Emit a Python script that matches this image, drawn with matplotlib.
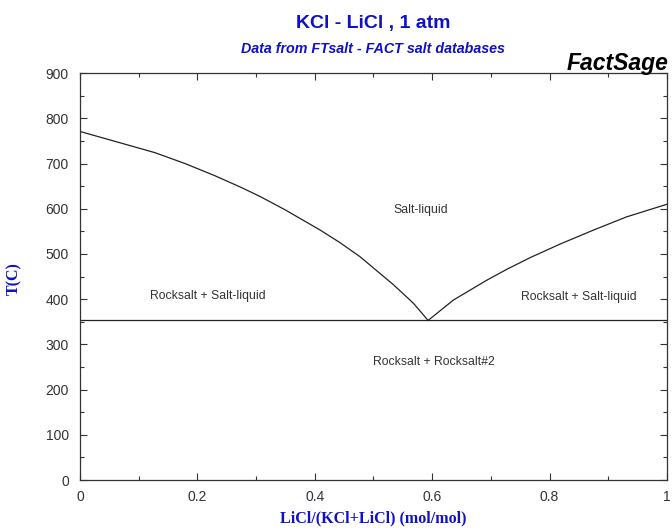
import matplotlib
matplotlib.use("Agg")
import matplotlib.pyplot as plt
from matplotlib.ticker import MultipleLocator

# liquidus, KCl side
x_left = [0.0, 0.128, 0.179, 0.230, 0.275, 0.307, 0.349, 0.409, 0.443, 0.477, 0.534, 0.568, 0.593]
t_left = [771, 724, 700, 673, 647, 627, 598, 553, 525, 494, 432, 391, 353]
# liquidus, LiCl side
x_right = [0.593, 0.636, 0.693, 0.727, 0.767, 0.818, 0.875, 0.931, 1.0]
t_right = [353, 398, 442, 466, 492, 522, 553, 582, 610]
t_eutectic = 353

labels = ["Salt-liquid", "Rocksalt + Salt-liquid", "Rocksalt + Salt-liquid", "Rocksalt + Rocksalt#2"]
label_x = [0.58, 0.218, 0.85, 0.603]
label_t = [597, 407, 405, 261]

blue = "#1010c8"
grey = "#333333"

fig = plt.figure(figsize=(6.72, 5.30), dpi=100)
ax = fig.add_axes([0.119, 0.0943, 0.8736, 0.7677])

ax.plot(x_left, t_left, color="#222222", lw=0.9)
ax.plot(x_right, t_right, color="#222222", lw=0.9)
ax.axhline(t_eutectic, color="#222222", lw=0.9)

for s, x, t in zip(labels, label_x, label_t):
    ax.text(x, t, s, ha="center", va="center", fontsize=8.8, color=grey,
            family="Liberation Sans")

ax.set_xlim(0, 1)
ax.set_ylim(0, 900)
ax.xaxis.set_minor_locator(MultipleLocator(0.1))
ax.yaxis.set_major_locator(MultipleLocator(100))
ax.yaxis.set_minor_locator(MultipleLocator(50))
ax.set_xticks([0, 0.2, 0.4, 0.6, 0.8, 1.0])
ax.set_xticklabels(["0", "0.2", "0.4", "0.6", "0.8", "1"])
ax.tick_params(which="both", direction="in", top=True, right=True,
               labelsize=10, labelcolor=grey, color=grey)
ax.tick_params(which="major", length=5, width=0.8)
ax.tick_params(which="minor", length=3, width=0.8)
ax.tick_params(axis="y", pad=8)
ax.tick_params(axis="x", pad=7)
for lab in ax.get_xticklabels() + ax.get_yticklabels():
    lab.set_family("Liberation Sans")
for sp in ax.spines.values():
    sp.set_color(grey)
    sp.set_linewidth(0.9)

fig.text(0.555, 0.955, "KCl - LiCl , 1 atm", ha="center", va="center",
         fontsize=14, fontweight="bold", color=blue, family="Liberation Sans")
fig.text(0.555, 0.908, "Data from FTsalt - FACT salt databases", ha="center", va="center",
         fontsize=10.3, fontweight="bold", style="italic", color=blue, family="Liberation Sans")
fig.text(0.995, 0.88, "FactSage", ha="right", va="center",
         fontsize=16.5, fontweight="bold", style="italic", color="black", family="Liberation Sans")

fig.text(0.555, 0.021, "LiCl/(KCl+LiCl) (mol/mol)", ha="center", va="center",
         family="Liberation Serif", fontweight="bold", fontsize=11.5, color=blue)
fig.text(0.021, 0.475, "T(C)", ha="center", va="center", rotation=90,
         family="Liberation Serif", fontweight="bold", fontsize=11.5, color=blue)

fig.savefig("out.png", dpi=100)
